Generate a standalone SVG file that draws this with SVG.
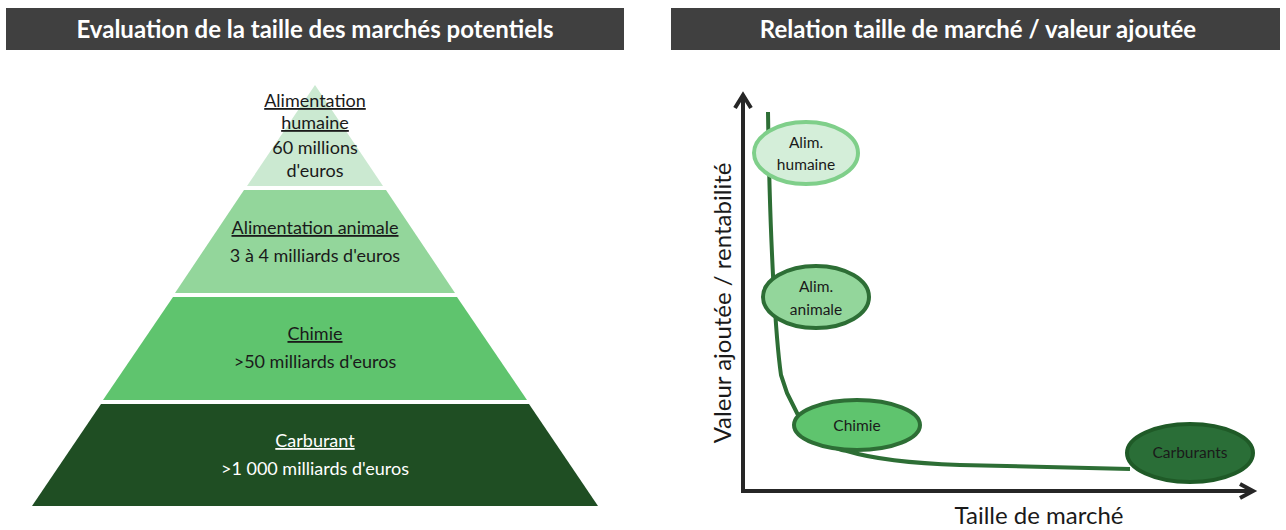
<svg xmlns="http://www.w3.org/2000/svg" width="1286" height="530" viewBox="0 0 1286 530">
<defs>
<style>
.hdr{fill:#404040}
.ht{font-family:Lato,"Open Sans",sans-serif;font-weight:bold;font-size:24px;fill:#ffffff;text-anchor:middle}
.pt{font-family:Lato,"Open Sans",sans-serif;font-size:18px;fill:#1a1a1a;text-anchor:middle}
.w{fill:#ffffff}
.u{text-decoration:underline}
.et{font-family:Lato,"Open Sans",sans-serif;font-size:15.5px;fill:#1a1a1a;text-anchor:middle}
.ax{font-family:Lato,"Open Sans",sans-serif;font-size:24px;fill:#1a1a1a;text-anchor:middle}
.axis{fill:none;stroke:#262626;stroke-width:4}
</style>
</defs>
<rect width="1286" height="530" fill="#ffffff"/>
<g id="header-left">
<rect class="hdr" x="6" y="8" width="618" height="42"/>
<text class="ht" x="315" y="38">Evaluation de la taille des marchés potentiels</text>
</g>
<g id="header-right">
<rect class="hdr" x="671" y="8" width="609" height="42"/>
<text class="ht" x="978" y="38">Relation taille de marché / valeur ajoutée</text>
</g>
<g id="tier-humaine">
<polygon points="315,85 383,186 247,186" fill="#cbe9d1"/>
<text class="pt u" x="315" y="107">Alimentation</text>
<text class="pt u" x="315" y="129">humaine</text>
<text class="pt" x="315" y="154">60 millions</text>
<text class="pt" x="315" y="177">d'euros</text>
</g>
<g id="tier-animale">
<polygon points="244,190 386,190 455,293 175,293" fill="#93d69b"/>
<text class="pt u" x="315" y="234">Alimentation animale</text>
<text class="pt" x="315" y="262">3 à 4 milliards d'euros</text>
</g>
<g id="tier-chimie">
<polygon points="173,297 457,297 527,400 103,400" fill="#5fc46e"/>
<text class="pt u" x="315" y="340">Chimie</text>
<text class="pt" x="315" y="368">&gt;50 milliards d'euros</text>
</g>
<g id="tier-carburant">
<polygon points="101,404 529,404 598,506 32,506" fill="#1f4e23"/>
<text class="pt u w" x="315" y="447">Carburant</text>
<text class="pt w" x="315" y="475">&gt;1 000 milliards d'euros</text>
</g>
<g id="connectors">
<path d="M768,112 C770,250 776,340 781,375 L787,393 L799,417 C815,440 830,448 847,451 C870,458 900,463 960,465 L1130,469" fill="none" stroke="#2d6e35" stroke-width="4" stroke-linejoin="round"/>
</g>
<g id="axes">
<polyline class="axis" points="743,96 743,491 1252,491"/>
<polyline class="axis" points="735,108 743,95 751,108"/>
<polyline class="axis" points="1240,484 1253,491 1240,498"/>
<text class="ax" x="1039" y="524">Taille de marché</text>
<text class="ax" transform="translate(731,303) rotate(-90)">Valeur ajoutée / rentabilité</text>
</g>
<g id="node-humaine">
<ellipse cx="806" cy="153" rx="52" ry="31" fill="#d4eed9" stroke="#7fcf8a" stroke-width="4"/>
<text class="et" x="806" y="148">Alim.</text>
<text class="et" x="806" y="170">humaine</text>
</g>
<g id="node-animale">
<ellipse cx="816" cy="297" rx="53" ry="31" fill="#93d69b" stroke="#2d6e35" stroke-width="4"/>
<text class="et" x="816" y="292">Alim.</text>
<text class="et" x="816" y="315">animale</text>
</g>
<g id="node-chimie">
<ellipse cx="857" cy="425" rx="63" ry="25" fill="#5fc46e" stroke="#2d6e35" stroke-width="4"/>
<text class="et" x="857" y="431">Chimie</text>
</g>
<g id="node-carburants">
<ellipse cx="1190" cy="453" rx="63" ry="29" fill="#2a6e37" stroke="#1f5a27" stroke-width="4"/>
<text class="et w" x="1190" y="458">Carburants</text>
</g>
</svg>
